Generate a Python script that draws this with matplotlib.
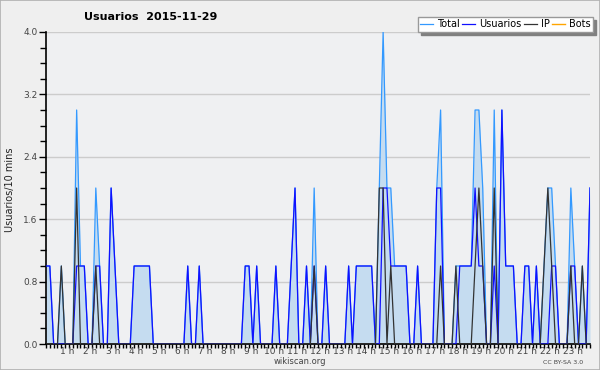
import numpy as np
import matplotlib.pyplot as plt
from matplotlib.patches import Rectangle
from matplotlib.ticker import MultipleLocator, FixedLocator
from matplotlib.transforms import ScaledTranslation

# valores cada 10 minutos (00:00 .. 23:40)
usuarios = [1, 1, 0, 0, 0, 0, 0, 0, 1, 1, 1, 0,
            0, 1, 1, 0, 0, 2, 1, 0, 0, 0, 0, 1,
            1, 1, 1, 1, 0, 0, 0, 0, 0, 0, 0, 0,
            0, 1, 0, 0, 1, 0, 0, 0, 0, 0, 0, 0,
            0, 0, 0, 0, 1, 1, 0, 1, 0, 0, 0, 0,
            1, 0, 0, 0, 1, 2, 0, 0, 1, 0, 1, 0,
            0, 1, 0, 0, 0, 0, 0, 1, 0, 1, 1, 1,
            1, 1, 0, 0, 2, 2, 1, 1, 1, 1, 1, 0,
            0, 1, 0, 0, 0, 0, 2, 2, 0, 0, 0, 0,
            1, 1, 1, 1, 2, 1, 1, 0, 0, 1, 0, 3,
            1, 1, 1, 0, 0, 1, 1, 0, 1, 0, 0, 0,
            1, 1, 0, 0, 0, 1, 1, 0, 0, 0, 2]
ip = [0, 0, 0, 0, 1, 0, 0, 0, 2, 0, 0, 0,
      0, 1, 0, 0, 0, 0, 0, 0, 0, 0, 0, 0,
      0, 0, 0, 0, 0, 0, 0, 0, 0, 0, 0, 0,
      0, 0, 0, 0, 0, 0, 0, 0, 0, 0, 0, 0,
      0, 0, 0, 0, 0, 0, 0, 0, 0, 0, 0, 0,
      0, 0, 0, 0, 0, 0, 0, 0, 0, 0, 1, 0,
      0, 0, 0, 0, 0, 0, 0, 0, 0, 0, 0, 0,
      0, 0, 0, 2, 2, 0, 1, 0, 0, 0, 0, 0,
      0, 0, 0, 0, 0, 0, 0, 1, 0, 0, 0, 1,
      0, 0, 0, 0, 1, 2, 1, 0, 0, 2, 0, 0,
      0, 0, 0, 0, 0, 0, 0, 0, 0, 0, 1, 2,
      1, 0, 0, 0, 0, 1, 0, 0, 1, 0, 0]
total = [1, 1, 0, 0, 1, 0, 0, 0, 3, 1, 1, 0,
         0, 2, 1, 0, 0, 2, 1, 0, 0, 0, 0, 1,
         1, 1, 1, 1, 0, 0, 0, 0, 0, 0, 0, 0,
         0, 1, 0, 0, 1, 0, 0, 0, 0, 0, 0, 0,
         0, 0, 0, 0, 1, 1, 0, 1, 0, 0, 0, 0,
         1, 0, 0, 0, 1, 2, 0, 0, 1, 0, 2, 0,
         0, 1, 0, 0, 0, 0, 0, 1, 0, 1, 1, 1,
         1, 1, 0, 2, 4, 2, 2, 1, 1, 1, 1, 0,
         0, 1, 0, 0, 0, 0, 2, 3, 0, 0, 0, 1,
         1, 1, 1, 1, 3, 3, 2, 0, 0, 3, 0, 3,
         1, 1, 1, 0, 0, 1, 1, 0, 1, 0, 1, 2,
         2, 1, 0, 0, 0, 2, 1, 0, 1, 0, 2]
bots = [0] * 143

hours = list(range(1, 24))
hour_labels = ['%d h' % h for h in hours]

x = np.arange(len(total))

fig = plt.figure(figsize=(6, 3.7), dpi=100, facecolor='#efefef')
fig.patches.append(Rectangle((0, 0), 1, 1, transform=fig.transFigure,
                             fill=False, edgecolor='#b0b0b0', lw=1.2))
ax = fig.add_axes([46/600, 1 - 344/370, 544/600, 312/370])
ax.set_facecolor('#eff0f2')

ax.fill_between(x, total, 0, color='#c5dcf0', lw=0, zorder=1)
ax.plot(x, bots, color='#ffa500', lw=1, label='Bots', zorder=1)
ax.plot(x, total, color='#3399ff', lw=0.9, label='Total', zorder=2)
ax.plot(x, usuarios, color='#1010ff', lw=0.9, label='Usuarios', zorder=3)
ax.plot(x, ip, color='#333333', lw=0.9, label='IP', zorder=4)

ax.set_xlim(0, 142)
ax.set_ylim(0, 4.0)

ax.yaxis.set_major_locator(MultipleLocator(0.8))
ax.yaxis.set_minor_locator(MultipleLocator(0.2))
ax.set_yticklabels(['%.1f' % v for v in ax.get_yticks()])
ax.xaxis.set_major_locator(FixedLocator([6 * h for h in hours]))
ax.xaxis.set_minor_locator(MultipleLocator(1))
ax.set_xticklabels(hour_labels)

ax.tick_params(axis='y', which='major', length=5, width=1, labelsize=6.5,
               labelcolor='#444444', pad=1)
ax.tick_params(axis='y', which='minor', length=4, width=1)
ax.tick_params(axis='x', which='both', length=3, width=1, labelsize=6.5,
               labelcolor='#444444', pad=-0.5)
shift = ScaledTranslation(-2/100, 0, fig.dpi_scale_trans)
for lab in ax.get_xticklabels():
    lab.set_transform(lab.get_transform() + shift)

ax.grid(axis='y', which='major', color='#cccccc', lw=1)
ax.set_axisbelow(True)
for s in ['top', 'right']:
    ax.spines[s].set_visible(False)
for s in ['left', 'bottom']:
    ax.spines[s].set_linewidth(1.2)

fig.text(151/600, 1 - 17/370, 'Usuarios  2015-11-29', fontsize=8,
         fontweight='bold', ha='center', va='center')
fig.text(10/600, 1 - 190/370, 'Usuarios/10 mins', rotation=90, fontsize=7,
         ha='center', va='center', color='#222222')
fig.text(300/600, 1 - 362/370, 'wikiscan.org', fontsize=6,
         ha='center', va='center', color='#444444')
fig.text(563/600, 1 - 362/370, 'CC BY-SA 3.0', fontsize=4.5,
         ha='center', va='center', color='#444444')

handles, labels = ax.get_legend_handles_labels()
order = [1, 2, 3, 0]
leg = ax.legend([handles[i] for i in order], [labels[i] for i in order],
                ncol=4, loc='upper right', bbox_to_anchor=(593/600, 1 - 17/370),
                bbox_transform=fig.transFigure, fontsize=7, frameon=True,
                fancybox=False, borderpad=0.25, handlelength=1.3,
                handletextpad=0.4, columnspacing=0.3, borderaxespad=0,
                shadow={'facecolor': '#808080', 'edgecolor': '#808080', 'alpha': 1})
leg.get_frame().set_edgecolor('#999999')
leg.get_frame().set_facecolor('white')
leg.get_frame().set_alpha(1)

fig.savefig('out.png', dpi=100, facecolor=fig.get_facecolor())
